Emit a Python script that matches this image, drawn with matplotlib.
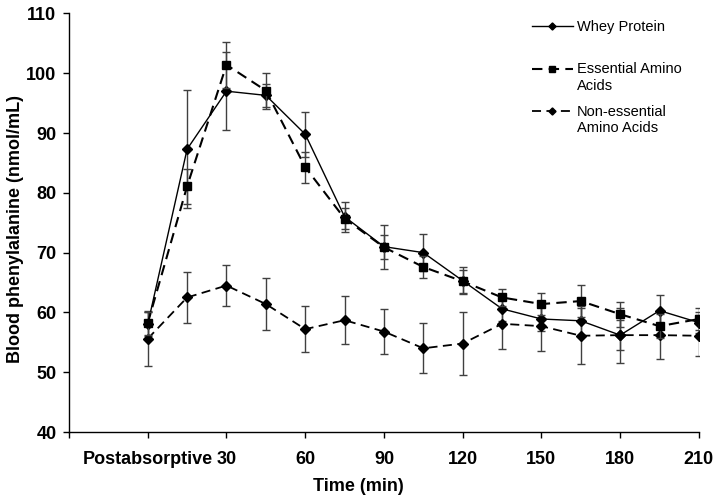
import matplotlib
matplotlib.use("Agg")
import matplotlib.pyplot as plt
import numpy as np

plt.rcParams['font.family'] = 'sans-serif'
plt.rcParams['font.sans-serif'] = ['Liberation Sans', 'DejaVu Sans']

# time points (min), 0 = postabsorptive
time = [0, 15, 30, 45, 60, 75, 90, 105, 120, 135, 150, 165, 180, 195, 210]

whey = [58.0, 87.3, 97.0, 96.3, 89.8, 76.0, 71.0, 70.0, 65.3, 60.6, 58.9, 58.6, 56.2, 60.3, 58.3]
whey_err = [2.0, 9.9, 6.5, 1.9, 3.8, 2.5, 3.7, 3.1, 2.3, 2.0, 2.0, 2.4, 2.5, 2.6, 1.8]

eaa = [58.2, 81.1, 101.4, 97.1, 84.3, 75.7, 70.9, 67.6, 65.2, 62.5, 61.4, 61.9, 59.7, 57.7, 58.9]
eaa_err = [1.9, 2.9, 3.9, 3.0, 2.6, 1.7, 2.0, 1.8, 1.9, 1.5, 1.8, 2.7, 2.1, 2.0, 1.8]

neaa = [55.6, 62.5, 64.5, 61.4, 57.2, 58.7, 56.8, 54.0, 54.8, 58.1, 57.7, 56.1, 56.2, 56.2, 56.1]
neaa_err = [4.6, 4.2, 3.4, 4.3, 3.8, 4.0, 3.8, 4.2, 5.2, 4.2, 4.2, 4.7, 4.6, 4.0, 3.4]

xticks = [-30, 0, 30, 60, 90, 120, 150, 180, 210]
xticklabels = ['', 'Postabsorptive', '30', '60', '90', '120', '150', '180', '210']
yticks = [40, 50, 60, 70, 80, 90, 100, 110]

fig = plt.figure(figsize=(7.15, 4.98), dpi=100)
ax = fig.add_axes([0.0965, 0.1325, 0.881, 0.8405])

ebar_kw = dict(ecolor='#404040', elinewidth=1.0, capsize=3, capthick=1.0)

ax.errorbar(time, whey, yerr=whey_err, color='black', lw=1.0, marker='D', ms=4.8,
            label='Whey Protein\n', zorder=3, **ebar_kw)
ax.errorbar(time, eaa, yerr=eaa_err, color='black', lw=1.5, ls=(0, (5, 3)), marker='s', ms=6.2,
            label='Essential Amino\nAcids', zorder=4, **ebar_kw)
ax.errorbar(time, neaa, yerr=neaa_err, color='black', lw=1.3, ls=(0, (5, 3)), marker='D', ms=4.8,
            label='Non-essential\nAmino Acids', zorder=3, **ebar_kw)

ax.set_xlim(-30, 210)
ax.set_ylim(40, 110)
ax.set_xticks(xticks)
ax.set_xticklabels(xticklabels)
ax.set_yticks(yticks)

for s in ['top', 'right']:
    ax.spines[s].set_visible(False)
for s in ['left', 'bottom']:
    ax.spines[s].set_linewidth(1.0)

ax.tick_params(axis='y', direction='out', length=4, width=1, pad=5, labelsize=13)
ax.tick_params(axis='x', direction='out', length=4, width=1, pad=10, labelsize=13)
for lab in ax.get_xticklabels() + ax.get_yticklabels():
    lab.set_fontweight('bold')

ax.set_xlabel('Time (min)', fontsize=13, fontweight='bold')
ax.xaxis.set_label_coords(0.46, -0.11)
ax.set_ylabel('Blood phenylalanine (nmol/mL)', fontsize=13, fontweight='bold')
ax.yaxis.set_label_coords(-0.0714, 0.485)

handles, labels = ax.get_legend_handles_labels()
handles = [h[0] for h in handles]
leg = ax.legend(handles, labels, loc='upper left', bbox_to_anchor=(0.735, 0.985),
                frameon=False, fontsize=10.5, borderpad=0, borderaxespad=0,
                handlelength=2.8, handletextpad=0.3, labelspacing=0.85,
                handleheight=1.2, markerscale=0.75)
# put the handle next to the first line of each label
for col in leg._legend_handle_box.get_children():
    for entry in col.get_children():
        entry.align = 'top'

fig.savefig('out.png', dpi=100)
